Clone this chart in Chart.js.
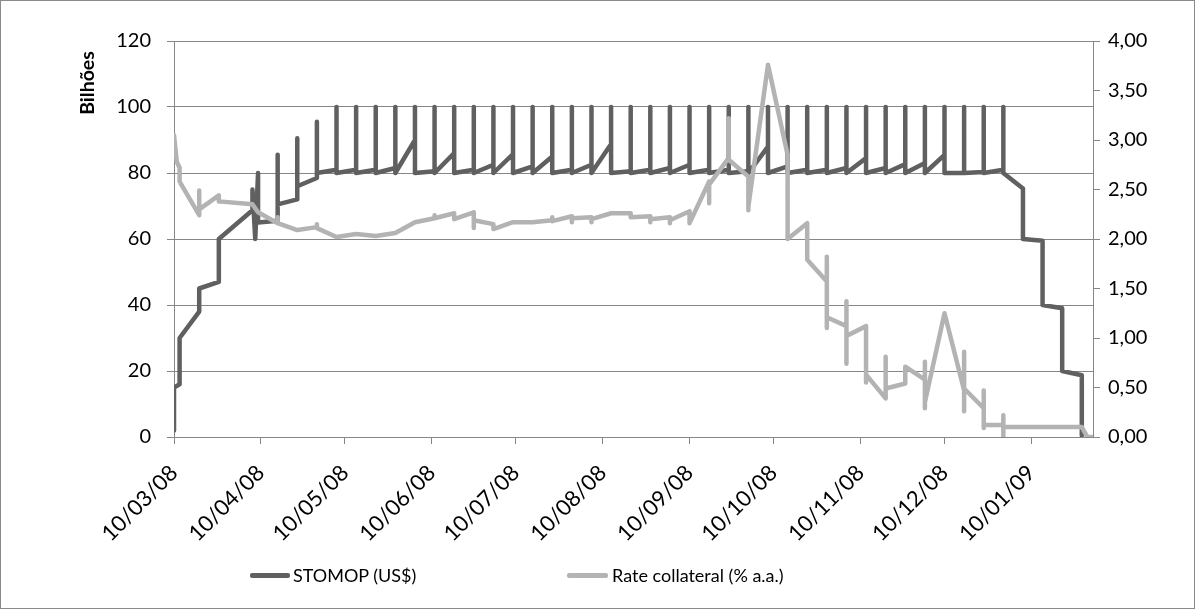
<!DOCTYPE html>
<html><head><meta charset="utf-8">
<script src="https://cdn.jsdelivr.net/npm/chart.js@4.4.0/dist/chart.umd.min.js"></script>
<style>
html,body{margin:0;padding:0;background:#fff;}
#wrap{position:relative;width:1195px;height:610px;overflow:hidden;}
#c{position:absolute;left:0;top:0;}
#frame{position:absolute;left:0;top:0;width:1193px;height:607px;border:1px solid #8a8a8a;pointer-events:none;}
.lg{position:absolute;font-family:Lato,"Liberation Sans",sans-serif;font-size:18px;color:#000;line-height:20px;white-space:nowrap;}
.ln{position:absolute;height:5px;border-radius:2px;}
</style></head><body>
<div id="wrap">
<canvas id="c" width="1195" height="610"></canvas>
<div id="frame"></div>
<div class="ln" style="left:250px;top:573px;width:40px;background:#606060"></div>
<div class="lg" style="left:293px;top:565px">STOMOP (US$)</div>
<div class="ln" style="left:567px;top:573px;width:41px;background:#b3b3b3"></div>
<div class="lg" style="left:612px;top:565px">Rate collateral (% a.a.)</div>
</div>
<script>
// ---- data ----
const axisStart = '2008-03-10';
const axisEnd = '2009-02-01';
const tickDates = ['2008-03-10','2008-04-10','2008-05-10','2008-06-10','2008-07-10','2008-08-10','2008-09-10','2008-10-10','2008-11-10','2008-12-10','2009-01-10'];
const tickLabels = ['10/03/08','10/04/08','10/05/08','10/06/08','10/07/08','10/08/08','10/09/08','10/10/08','10/11/08','10/12/08','10/01/09'];

const stomopDates = [
'2008-03-10','2008-03-10','2008-03-12','2008-03-12','2008-03-19','2008-03-19','2008-03-26','2008-03-26',
'2008-04-07','2008-04-07','2008-04-08','2008-04-09','2008-04-09',
'2008-04-16','2008-04-16','2008-04-16','2008-04-23','2008-04-23','2008-04-23','2008-04-30','2008-04-30','2008-04-30',
'2008-05-07','2008-05-07','2008-05-07','2008-05-14','2008-05-14','2008-05-14','2008-05-21','2008-05-21','2008-05-21',
'2008-05-28','2008-05-28','2008-05-28','2008-06-04','2008-06-04','2008-06-04','2008-06-11','2008-06-11','2008-06-11',
'2008-06-18','2008-06-18','2008-06-18','2008-06-25','2008-06-25','2008-06-25','2008-07-02','2008-07-02','2008-07-02',
'2008-07-09','2008-07-09','2008-07-09','2008-07-16','2008-07-16','2008-07-16','2008-07-23','2008-07-23','2008-07-23',
'2008-07-30','2008-07-30','2008-07-30','2008-08-06','2008-08-06','2008-08-06','2008-08-13','2008-08-13','2008-08-13',
'2008-08-20','2008-08-20','2008-08-20','2008-08-27','2008-08-27','2008-08-27','2008-09-03','2008-09-03','2008-09-03',
'2008-09-10','2008-09-10','2008-09-10','2008-09-17','2008-09-17','2008-09-17','2008-09-24','2008-09-24','2008-09-24',
'2008-10-01','2008-10-01','2008-10-01','2008-10-08','2008-10-08','2008-10-08','2008-10-15','2008-10-15','2008-10-15',
'2008-10-22','2008-10-22','2008-10-22','2008-10-29','2008-10-29','2008-10-29','2008-11-05','2008-11-05','2008-11-05',
'2008-11-12','2008-11-12','2008-11-12','2008-11-19','2008-11-19','2008-11-19','2008-11-26','2008-11-26','2008-11-26',
'2008-12-03','2008-12-03','2008-12-03','2008-12-10','2008-12-10','2008-12-10','2008-12-17','2008-12-17','2008-12-17',
'2008-12-24','2008-12-24','2008-12-24','2008-12-31','2008-12-31','2008-12-31',
'2009-01-07','2009-01-07','2009-01-14','2009-01-14','2009-01-21','2009-01-21','2009-01-28','2009-01-28'
];
const stomopValues = [
2,15,16,30,38,45,47,60,
68.7,75,60,80,65,
65.5,85.5,70.5, 72,90.5,76, 78.5,95.5,80,
81,100,80, 81,100,80, 81,100,80,
81.5,100,80, 90,100,80, 80.5,100,80,
86,100,80, 81,100,80, 82.5,100,80,
85.7,100,80, 82,100,80, 85,100,80,
81,100,80, 82.5,100,80, 88.8,100,80,
80.5,100,80, 81,100,80, 81.5,100,80,
82.5,100,80, 81,100,80, 81,100,80,
80.5,100,80, 88,100,80, 82,100,80,
81,100,80, 81,100,80, 81.5,100,80,
84.5,100,80, 81.5,100,80, 82.7,100,80,
83,100,80, 85.5,100,80, 80,100,80,
80.3,100,80, 81,100,80,
75.3,60, 59.5,40, 39,20, 18.7,0.5
];

const rateDates = [
'2008-03-10','2008-03-11','2008-03-12','2008-03-12','2008-03-19','2008-03-19','2008-03-19','2008-03-26','2008-03-26',
'2008-04-07','2008-04-09','2008-04-16','2008-04-16','2008-04-16','2008-04-23','2008-04-30','2008-04-30','2008-04-30',
'2008-05-07','2008-05-14','2008-05-21','2008-05-28','2008-06-04','2008-06-11','2008-06-11','2008-06-11',
'2008-06-18','2008-06-18','2008-06-25','2008-06-25','2008-06-25','2008-07-02','2008-07-02','2008-07-09','2008-07-16',
'2008-07-23','2008-07-23','2008-07-23','2008-07-30','2008-07-30','2008-07-30','2008-08-06','2008-08-06','2008-08-06',
'2008-08-13','2008-08-20','2008-08-20','2008-08-27','2008-08-27','2008-08-27','2008-09-03','2008-09-03','2008-09-03',
'2008-09-10','2008-09-10','2008-09-17','2008-09-17','2008-09-17','2008-09-24','2008-09-24','2008-09-24',
'2008-10-01','2008-10-01','2008-10-01','2008-10-08','2008-10-15','2008-10-15','2008-10-22','2008-10-22',
'2008-10-29','2008-10-29','2008-10-29','2008-10-29','2008-11-05','2008-11-05','2008-11-05','2008-11-05',
'2008-11-12','2008-11-12','2008-11-12','2008-11-19','2008-11-19','2008-11-19','2008-11-19','2008-11-26','2008-11-26',
'2008-12-03','2008-12-03','2008-12-03','2008-12-03','2008-12-10','2008-12-17','2008-12-17','2008-12-17','2008-12-17',
'2008-12-24','2008-12-24','2008-12-24','2008-12-24','2008-12-31','2008-12-31','2008-12-31','2008-12-31',
'2009-01-28','2009-01-30','2009-02-01'
];
const rateValues = [
3.05,2.78,2.72,2.58,2.24,2.49,2.30,2.44,2.38,
2.35,2.27,2.16,2.22,2.16,2.09,2.12,2.15,2.11,
2.02,2.05,2.03,2.06,2.17,2.21,2.24,2.21,
2.26,2.20,2.27,2.11,2.19,2.15,2.10,2.17,2.17,
2.19,2.22,2.18,2.23,2.17,2.21,2.22,2.17,2.20,
2.26,2.26,2.22,2.23,2.17,2.20,2.22,2.16,2.19,
2.28,2.16,2.58,2.36,2.55,2.82,3.22,2.80,
2.63,2.29,2.33,3.76,2.85,2.00,2.16,1.79,
1.57,1.82,1.10,1.21,1.12,1.37,0.74,1.02,
1.12,0.55,0.63,0.39,0.81,0.39,0.49,0.54,0.71,
0.58,0.76,0.29,0.35,1.25,0.47,0.86,0.26,0.49,
0.29,0.47,0.09,0.12,0.12,0.22,0.00,0.10,
0.10,0.00,0.00
];

const leftMax = 120, leftStep = 20;
const rightMax = 4, rightStep = 0.5;

// ---- helpers ----
const DAY = 86400000;
function dayOf(s){const p=s.split('-').map(Number);const a=axisStart.split('-').map(Number);
  return Math.round((Date.UTC(p[0],p[1]-1,p[2])-Date.UTC(a[0],a[1]-1,a[2]))/DAY);}
const stomopPts = stomopDates.map((d,i)=>({x:dayOf(d),y:stomopValues[i]}));
const ratePts = rateDates.map((d,i)=>({x:dayOf(d),y:rateValues[i]}));

const FONT = 'Lato';
const GRID = '#868686';
const yFont = {family:FONT,size:20};
const xFont = {family:FONT,size:22};

const titlePlugin = {
  id:'leftTitle',
  afterDraw(chart){
    const c=chart.ctx; c.save();
    c.translate(88,83); c.rotate(-Math.PI/2);
    c.font='bold 19.5px '+FONT; c.fillStyle='#000'; c.textAlign='center'; c.textBaseline='middle';
    c.fillText('Bilhões',0,0); c.restore();
  }
};

new Chart(document.getElementById('c'),{
  type:'line',
  data:{datasets:[
    {label:'STOMOP (US$)',data:stomopPts,yAxisID:'y',borderColor:'#606060',borderWidth:4.5,pointRadius:0,tension:0,borderJoinStyle:'round',borderCapStyle:'round',order:2,fill:false},
    {label:'Rate collateral (% a.a.)',data:ratePts,yAxisID:'y2',borderColor:'#b3b3b3',borderWidth:4.5,pointRadius:0,tension:0,borderJoinStyle:'round',borderCapStyle:'round',order:1,fill:false}
  ]},
  options:{
    responsive:false,animation:false,devicePixelRatio:1,
    layout:{padding:{top:41,left:0,right:0,bottom:0}},
    plugins:{legend:{display:false},tooltip:{enabled:false}},
    scales:{
      x:{type:'linear',min:dayOf(axisStart),max:dayOf(axisEnd),
        afterBuildTicks:s=>{s.ticks=tickDates.map(d=>({value:dayOf(d)}));},
        afterFit:s=>{s.height=173;},
        ticks:{autoSkip:false,minRotation:45,maxRotation:45,color:'#000',font:xFont,padding:16,
          callback:(v,i)=>tickLabels[i]},
        grid:{drawOnChartArea:false,drawTicks:true,tickLength:7,color:GRID},
        border:{color:GRID,width:1}},
      y:{position:'left',min:0,max:leftMax,
        afterFit:s=>{s.width=174;},
        ticks:{stepSize:leftStep,color:'#000',font:yFont,padding:16},
        grid:{color:GRID,tickLength:7,drawTicks:true},
        border:{color:GRID,width:1}},
      y2:{position:'right',min:0,max:rightMax,
        afterFit:s=>{s.width=102;},
        ticks:{stepSize:rightStep,color:'#000',font:yFont,padding:8,
          callback:v=>v.toFixed(2).replace('.',',')},
        grid:{drawOnChartArea:false,tickLength:7,drawTicks:true,color:GRID},
        border:{color:GRID,width:1}}
    }
  },
  plugins:[titlePlugin]
});
</script>
</body></html>
